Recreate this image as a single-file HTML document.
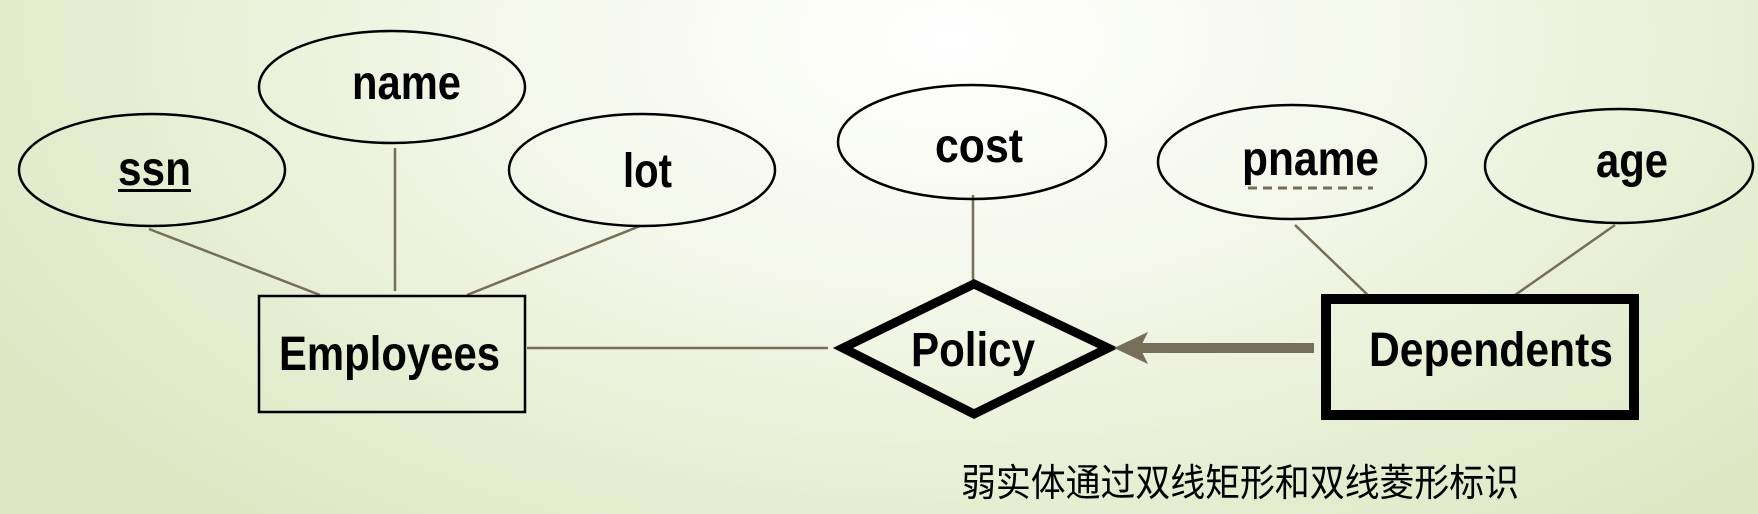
<!DOCTYPE html>
<html><head><meta charset="utf-8"><style>
html,body{margin:0;padding:0;}
body{width:1758px;height:514px;overflow:hidden;background:radial-gradient(ellipse 1100px 620px at 950px 40px,#ffffff 0%,#f4f7ea 40%,#e6eed2 75%,#dde7c4 100%);}
svg{position:absolute;left:0;top:0;}
text{font-family:"Liberation Sans",Arial,sans-serif;font-weight:bold;fill:#000;}
</style></head><body>
<svg width="1758" height="514" viewBox="0 0 1758 514">
<g stroke="#756e58" stroke-width="2.5" fill="none">
<line x1="149" y1="229" x2="320" y2="295"/>
<line x1="395" y1="148" x2="395" y2="291"/>
<line x1="640" y1="226" x2="467" y2="295"/>
<line x1="527" y1="348" x2="828" y2="348"/>
<line x1="973" y1="195" x2="973" y2="282"/>
<line x1="1295" y1="225" x2="1373" y2="300"/>
<line x1="1615" y1="225" x2="1508" y2="300"/>
</g>
<g stroke="#000" stroke-width="2.5" fill="none">
<ellipse cx="152" cy="170" rx="133" ry="56"/>
<ellipse cx="392" cy="87" rx="133" ry="56"/>
<ellipse cx="642" cy="170" rx="133" ry="56"/>
<ellipse cx="972" cy="142" rx="134" ry="57"/>
<ellipse cx="1292" cy="162" rx="134" ry="57"/>
<ellipse cx="1619" cy="166" rx="134" ry="57"/>
<rect x="259" y="296" width="266" height="116"/>
</g>
<polygon points="843,348 974,284 1108,348 974,414" fill="none" stroke="#000" stroke-width="9" stroke-linejoin="miter"/>
<rect x="1326" y="299" width="308" height="116" fill="none" stroke="#000" stroke-width="10"/>
<rect x="1138" y="343" width="176" height="10" fill="#756e58"/>
<polygon points="1114,348 1148,332 1140,348 1148,364" fill="#756e58"/>
<text x="118" y="185" font-size="48" textLength="73" lengthAdjust="spacingAndGlyphs">ssn</text>
<rect x="118" y="189" width="73" height="3" fill="#000"/>
<text x="352" y="99" font-size="48" textLength="109" lengthAdjust="spacingAndGlyphs">name</text>
<text x="623" y="187" font-size="48" textLength="49" lengthAdjust="spacingAndGlyphs">lot</text>
<text x="935" y="162" font-size="48" textLength="88" lengthAdjust="spacingAndGlyphs">cost</text>
<text x="1242" y="175" font-size="48" textLength="137" lengthAdjust="spacingAndGlyphs">pname</text>
<line x1="1248" y1="188" x2="1373" y2="188" stroke="#756e58" stroke-width="3" stroke-dasharray="9,6"/>
<text x="1596" y="177" font-size="48" textLength="72" lengthAdjust="spacingAndGlyphs">age</text>
<text x="279" y="370" font-size="48" textLength="221" lengthAdjust="spacingAndGlyphs">Employees</text>
<text x="911" y="366" font-size="48" textLength="124" lengthAdjust="spacingAndGlyphs">Policy</text>
<text x="1369" y="366" font-size="48" textLength="244" lengthAdjust="spacingAndGlyphs">Dependents</text>
<text x="961" y="496" font-size="38" textLength="558" lengthAdjust="spacingAndGlyphs" style="font-weight:normal;font-family:'Liberation Sans','Noto Sans CJK SC',sans-serif">弱实体通过双线矩形和双线菱形标识</text>
</svg>
</body></html>
